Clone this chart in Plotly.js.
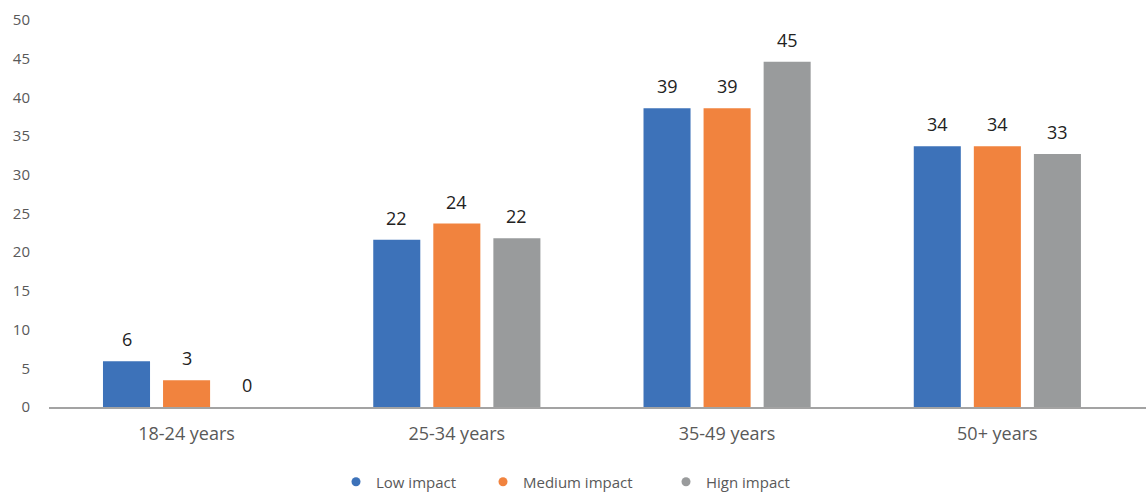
<!DOCTYPE html>
<html>
<head>
<meta charset="utf-8">
<script src="https://cdn.plot.ly/plotly-3.0.1.min.js"></script>
<style>html,body{margin:0;padding:0;background:#fff;}#chart{width:1147px;height:492px;}</style>
</head>
<body>
<div id="chart"></div>
<script>
const categories = ["18-24 years", "25-34 years", "35-49 years", "50+ years"];
const seriesNames = ["Low impact", "Medium impact", "Hign impact"];
const lowImpact = [5.9, 21.6, 38.6, 33.7];
const mediumImpact = [3.45, 23.7, 38.6, 33.7];
const highImpact = [0, 21.8, 44.6, 32.7];
const lowLabels = ["6", "22", "39", "34"];
const mediumLabels = ["3", "24", "39", "34"];
const highLabels = ["0", "22", "45", "33"];
const colors = ["#3d72b9", "#f1833e", "#999b9c"];

const series = [lowImpact, mediumImpact, highImpact];
const labels = [lowLabels, mediumLabels, highLabels];
const legendIds = ["legend", "legend2", "legend3"];
const legendX = [336, 483, 666];
const bargap = 1/3;
const font = "'Open Sans', 'Noto Sans', sans-serif";

const traces = [];
series.forEach((vals, i) => {
  traces.push({
    type: "bar", x: categories, y: vals, name: seriesNames[i],
    marker: {color: colors[i]}, showlegend: false, hoverinfo: "x+y"
  });
});
series.forEach((vals, i) => {
  traces.push({
    type: "scatter", mode: "markers", x: [null], y: [null], name: seriesNames[i],
    marker: {color: colors[i], size: 9, symbol: "circle"}, showlegend: true,
    legend: legendIds[i]
  });
});

const annotations = [];
const slot = (1 - bargap) / series.length;
series.forEach((vals, i) => {
  vals.forEach((v, j) => {
    annotations.push({
      x: j + (i - (series.length - 1) / 2) * slot, y: v, xref: "x", yref: "y",
      text: labels[i][j], showarrow: false, yanchor: "middle", yshift: 22,
      font: {family: font, size: 18, color: "#222222"}
    });
  });
});

const layout = {
  width: 1147, height: 492,
  margin: {l: 49, r: 1, t: 20, b: 85, autoexpand: false},
  paper_bgcolor: "#ffffff", plot_bgcolor: "#ffffff",
  barmode: "group", bargap: bargap, bargroupgap: 0.2167,
  font: {family: font, color: "#595959"},
  xaxis: {
    type: "category", range: [-0.509, 3.55], showline: true, linecolor: "#a3a3a3", linewidth: 1.5,
    showgrid: false, zeroline: false, ticks: "", tickfont: {size: 18, color: "#595959"},
    ticklabelstandoff: 10, fixedrange: true
  },
  yaxis: {
    range: [0, 50], dtick: 5, tick0: 0, showgrid: false, zeroline: false, showline: false,
    ticks: "", tickfont: {size: 15, color: "#595959"}, ticklabelstandoff: 18, fixedrange: true
  },
  annotations: annotations
};
legendIds.forEach((id, i) => {
  layout[id] = {
    orientation: "h", xref: "container", yref: "container",
    x: legendX[i] / 1147, xanchor: "left", y: 1 - 482 / 492, yanchor: "middle",
    font: {size: 15, color: "#595959"}, bgcolor: "rgba(0,0,0,0)"
  };
});

Plotly.newPlot("chart", traces, layout, {displayModeBar: false, staticPlot: true});
</script>
</body>
</html>
